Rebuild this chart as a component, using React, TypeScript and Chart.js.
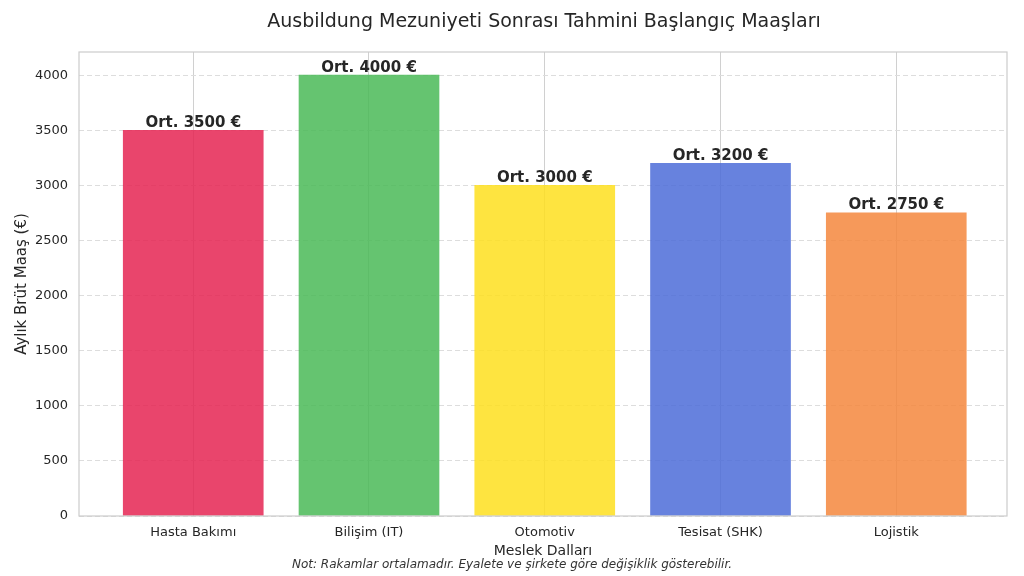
import React, { useEffect, useRef } from "react";
import { Chart, registerables } from "chart.js";

Chart.register(...registerables);

const categories = ["Hasta Bakımı", "Bilişim (IT)", "Otomotiv", "Tesisat (SHK)", "Lojistik"];
const salaries = [3500, 4000, 3000, 3200, 2750];
const barColors = [
  "rgba(229,37,82,0.85)",
  "rgba(74,186,87,0.85)",
  "rgba(254,223,30,0.85)",
  "rgba(76,108,216,0.85)",
  "rgba(244,135,61,0.85)",
];
const yTicks = [0, 500, 1000, 1500, 2000, 2500, 3000, 3500, 4000];
const chartTitle = "Ausbildung Mezuniyeti Sonrası Tahmini Başlangıç Maaşları";
const xTitle = "Meslek Dalları";
const yTitle = "Aylık Brüt Maaş (€)";
const footnote = "Not: Rakamlar ortalamadır. Eyalete ve şirkete göre değişiklik gösterebilir.";

const FONT = "'DejaVu Sans', sans-serif";
const TEXT = "#262626";

const textPlugin = {
  id: "textPlugin",
  afterDatasetsDraw(chart: any) {
    const ctx = chart.ctx;
    const meta = chart.getDatasetMeta(0);
    ctx.save();
    ctx.fillStyle = TEXT;
    ctx.font = `bold 15px ${FONT}`;
    ctx.textAlign = "center";
    ctx.textBaseline = "bottom";
    meta.data.forEach((bar: any, i: number) => {
      ctx.fillText(`Ort. ${salaries[i]} €`, bar.x, bar.y);
    });
    ctx.restore();
  },
  afterDraw(chart: any) {
    const ctx = chart.ctx;
    ctx.save();
    ctx.fillStyle = TEXT;
    ctx.textAlign = "center";
    ctx.textBaseline = "middle";
    ctx.font = `19px ${FONT}`;
    ctx.fillText(chartTitle, 544, 22);
    ctx.font = `italic 12px ${FONT}`;
    ctx.fillStyle = "#333333";
    ctx.fillText(footnote, 512, 565);
    const a = chart.chartArea;
    ctx.strokeStyle = "#cccccc";
    ctx.lineWidth = 1.2;
    ctx.strokeRect(a.left, a.top, a.right - a.left, a.bottom - a.top);
    ctx.restore();
  },
};

export default function App() {
  const ref = useRef<HTMLCanvasElement | null>(null);
  useEffect(() => {
    if (!ref.current) return;
    const chart = new Chart(ref.current, {
      type: "bar",
      data: {
        datasets: [
          {
            data: salaries.map((v, i) => ({ x: i, y: v })),
            backgroundColor: barColors,
            borderWidth: 0,
            barThickness: 140,
          },
        ],
      },
      options: {
        animation: false,
        responsive: false,
        maintainAspectRatio: false,
        layout: { padding: { left: 0, right: 17, top: 52, bottom: 12 } },
        plugins: {
          legend: { display: false },
          tooltip: { enabled: false },
          title: { display: false },
        },
        scales: {
          x: {
            type: "linear",
            min: -0.65,
            max: 4.63,
            offset: false,
            afterBuildTicks: (scale: any) => {
              scale.ticks = categories.map((_, i) => ({ value: i }));
            },
            afterFit: (scale: any) => {
              scale.height = 48;
            },
            ticks: {
              callback: (v: any) => categories[Math.round(Number(v))] ?? "",
              color: TEXT,
              font: { family: FONT, size: 13 },
              padding: 9,
              maxRotation: 0,
              autoSkip: false,
            },
            grid: { color: "#d0d0d0", lineWidth: 1, drawTicks: false, offset: false },
            border: { display: false },
            title: {
              display: true,
              text: xTitle,
              color: TEXT,
              font: { family: FONT, size: 14 },
              padding: { top: 0, bottom: 4 },
            },
          },
          y: {
            min: 0,
            max: 4210,
            afterBuildTicks: (scale: any) => {
              scale.ticks = yTicks.map((v) => ({ value: v }));
            },
            afterFit: (scale: any) => {
              scale.width = 79;
            },
            ticks: {
              callback: (v: any) => String(v),
              color: TEXT,
              font: { family: FONT, size: 13 },
              padding: 11,
            },
            grid: {
              color: "#dddddd",
              lineWidth: 1,
              drawTicks: false,
            },
            border: { display: false, dash: [5, 3] },
            title: {
              display: true,
              text: yTitle,
              color: TEXT,
              font: { family: FONT, size: 15 },
              padding: { top: 13, bottom: 4 },
            },
          },
        },
      } as any,
      plugins: [textPlugin],
    });
    return () => chart.destroy();
  }, []);
  return (
    <div style={{ position: "fixed", left: 0, top: 0, width: 1024, height: 576, background: "#fff" }}>
      <canvas ref={ref} width={1024} height={576} style={{ width: 1024, height: 576 }} />
    </div>
  );
}
